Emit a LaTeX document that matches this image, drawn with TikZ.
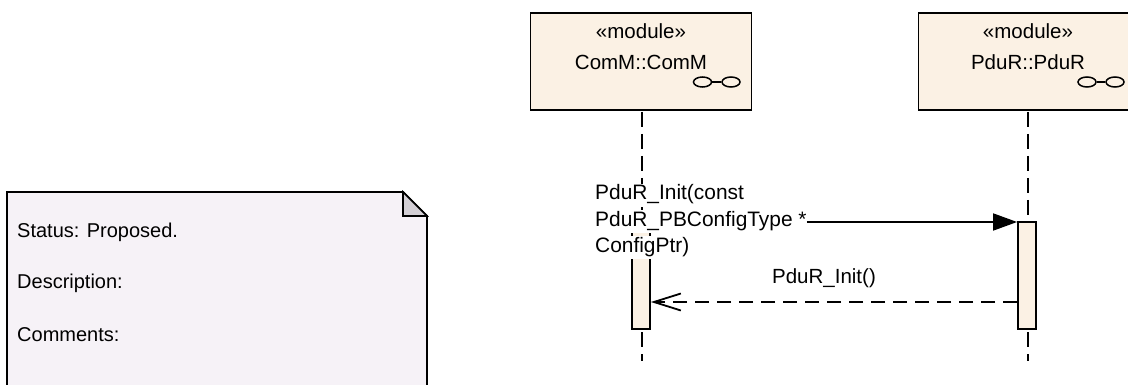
\documentclass[tikz,border=0pt]{standalone}
\usepackage{fontspec}
\setmainfont{Liberation Sans}
\usetikzlibrary{arrows.meta,shapes.geometric}

\definecolor{modulefill}{RGB}{251,241,228}
\definecolor{notefill}{RGB}{246,242,247}
\definecolor{foldfill}{RGB}{211,207,213}

\tikzset{
	modulebox/.style={draw,line width=1.9pt,fill=modulefill,inner sep=0pt},
	activation/.style={draw,line width=1.8pt,fill=modulefill,inner sep=0pt,minimum width=18pt},
	lifeline/.style={line width=1.8pt,dash pattern=on 15pt off 7pt},
	umltext/.style={inner sep=0pt,font=\fontsize{20.5}{26}\selectfont},
	notetext/.style={inner sep=0pt,anchor=west,font=\fontsize{20}{26}\selectfont},
	calltext/.style={inner sep=0pt,font=\fontsize{20.9}{26}\selectfont,anchor=west,fill=white,text height=15pt,text depth=6pt,inner ysep=1pt},
	linkring/.style={draw,line width=1.5pt,ellipse,minimum width=18pt,minimum height=10pt,inner sep=0pt,fill=modulefill},
}

\begin{document}
\begin{tikzpicture}[x=1pt,y=-1pt,>=latex]
\useasboundingbox (0,0) rectangle (1128,385);

% lifelines
\coordinate (L1top) at (642,112);
\coordinate (L1bot) at (642,361);
\coordinate (L2top) at (1028,112);
\coordinate (L2bot) at (1028,361);
\draw[lifeline] (L1top)--(L1bot);
\draw[lifeline] (L2top)--(L2bot);

% modules
\node[modulebox,minimum width=221pt,minimum height=97pt] (comm) at (641,61.5) {};
\node[modulebox,minimum width=220pt,minimum height=97pt] (pdur) at (1028.5,61.5) {};
\node[umltext] (mod1) at (641,31) {«module»};
\node[umltext] (comname) at (641,62) {ComM::ComM};
\node[umltext] (mod2) at (1028,31) {«module»};
\node[umltext] (pduname) at (1028,62) {PduR::PduR};

\node[linkring] (ring1a) at (702.5,82) {};
\node[linkring] (ring1b) at (731,82) {};
\draw[line width=1.5pt] (ring1a)--(ring1b);
\node[linkring] (ring2a) at (1087,82) {};
\node[linkring] (ring2b) at (1115,82) {};
\draw[line width=1.5pt] (ring2a)--(ring2b);

% activations
\node[activation,minimum height=97pt] (act1) at (641,280.5) {};
\node[activation,minimum height=107pt] (act2) at (1027,275.5) {};

% messages
\node[calltext] (call1) at (595,195.5) {PduR\_Init(const};
\node[calltext] (call2) at (595,221.5) {PduR\_PBConfigType *};
\node[calltext] (call3) at (595,247.5) {ConfigPtr)};
\coordinate (C2) at (call2.east |- 0,222);
\coordinate (A2) at (act2.west |- 0,222);
\draw[-{Triangle[length=24pt,width=17pt]},line width=1.8pt] (C2)--(A2);
\coordinate (R2) at (act2.west |- 0,302);
\coordinate (R1) at (act1.east |- 0,302);
\draw[-{Straight Barb[length=27pt,width=17pt]},line width=1.8pt,dash pattern=on 14pt off 8pt] (R2)--(R1);
\node[umltext] (ret) at (824,278) {PduR\_Init()};

% note
\filldraw[line width=1.9pt,draw=black,fill=notefill] (7,192)--(403,192)--(427,216)--(427,386)--(7,386)--cycle;
\filldraw[line width=1.6pt,fill=foldfill] (403,192)--(427,216)--(403,216)--cycle;
\node[notetext] (status) at (17,232) {Status: Proposed.};
\node[notetext] (desc) at (17,283) {Description:};
\node[notetext] (comments) at (17,335) {Comments:};

\end{tikzpicture}
\end{document}
